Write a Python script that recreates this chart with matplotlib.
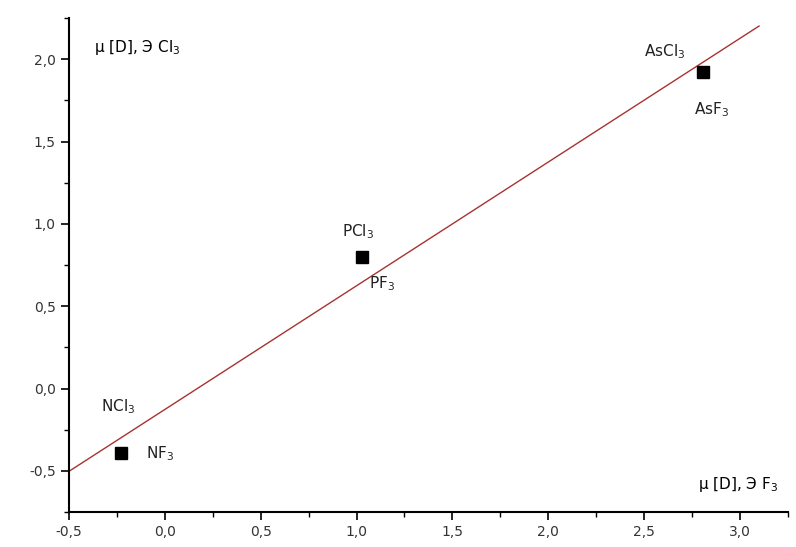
import numpy as np
import matplotlib.pyplot as plt
from matplotlib.ticker import MultipleLocator, FuncFormatter

# dipole moments, D
mu_f = [-0.23, 1.03, 2.81]   # NF3, PF3, AsF3
mu_cl = [-0.39, 0.80, 1.92]  # NCl3, PCl3, AsCl3
cl_names = ["NCl$_3$", "PCl$_3$", "AsCl$_3$"]
f_names = ["NF$_3$", "PF$_3$", "AsF$_3$"]

fig = plt.figure(figsize=(7.96, 5.47), dpi=100)
ax = fig.add_axes([0.0867, 0.064, 0.903, 0.903])

k, b = np.polyfit(mu_f, mu_cl, 1)
xs = np.array([-0.5, 3.1])
ax.plot(xs, k * xs + b, color="#a83232", lw=1.0)
ax.plot(mu_f, mu_cl, "s", color="black", markersize=8)

# label offsets in points (Cl label, F label)
cl_off = [(-2, 33), (-3, 18), (-28, 15)]
f_off = [(28, -1), (14, -19), (6, -27)]
for i in range(3):
    ax.annotate(cl_names[i], (mu_f[i], mu_cl[i]), xytext=cl_off[i],
                textcoords="offset points", ha="center", va="center", fontsize=11, color="#222222")
    ax.annotate(f_names[i], (mu_f[i], mu_cl[i]), xytext=f_off[i],
                textcoords="offset points", ha="center", va="center", fontsize=11, color="#222222")

ax.text(0.035, 0.94, "μ [D], Э Cl$_3$", transform=ax.transAxes, fontsize=11, va="center")
ax.text(0.875, 0.055, "μ [D], Э F$_3$", transform=ax.transAxes, fontsize=11, va="center")

ax.set_xlim(-0.5, 3.25)
ax.set_ylim(-0.75, 2.25)
fmt = FuncFormatter(lambda v, p: f"{v:.1f}".replace(".", ","))
for axis in (ax.xaxis, ax.yaxis):
    axis.set_major_locator(MultipleLocator(0.5))
    axis.set_minor_locator(MultipleLocator(0.25))
    axis.set_major_formatter(fmt)
ax.tick_params(which="major", length=6, width=1.2, labelsize=10, labelcolor="#333333")
ax.tick_params(which="minor", length=3.5, width=1.0)
ax.spines["top"].set_visible(False)
ax.spines["right"].set_visible(False)
ax.spines["left"].set_linewidth(1.5)
ax.spines["bottom"].set_linewidth(1.5)

fig.savefig("out.png", dpi=100)
